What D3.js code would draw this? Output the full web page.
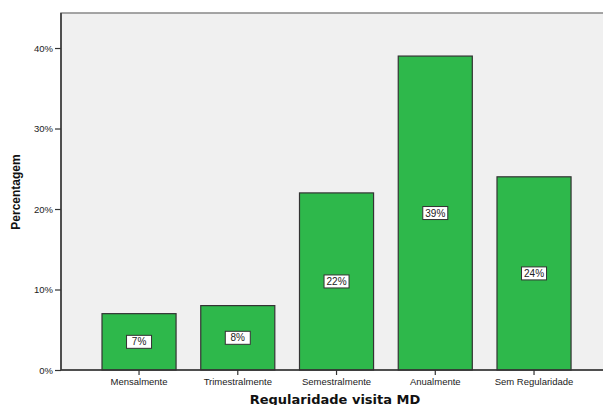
<!DOCTYPE html>
<html><head><meta charset="utf-8">
<script src="https://cdn.jsdelivr.net/npm/d3@7"></script>
<style>body{margin:0;background:#fff}svg{display:block}</style>
</head><body>
<svg id="c" width="603" height="405"></svg>
<script>
const categories = ["Mensalmente","Trimestralmente","Semestralmente","Anualmente","Sem Regularidade"];
const values = [7, 8, 22, 39, 24];
const yTicks = [0, 10, 20, 30, 40];
const xTitle = "Regularidade visita MD";
const yTitle = "Percentagem";

const svg = d3.select("#c");
const pLeft = 61, pTop = 13, pBottom = 370, pRight = 603;
const y = d3.scaleLinear().domain([0, 44.35]).range([pBottom, pTop]);
const x = d3.scaleBand().domain(categories).range([89.66, 583.4]).paddingInner(0.25).paddingOuter(0.125);

svg.append("rect").attr("x", pLeft).attr("y", pTop).attr("width", pRight - pLeft + 5).attr("height", pBottom - pTop)
  .attr("fill", "#f0f0f0").attr("stroke", "#888").attr("stroke-width", 1.5);

svg.selectAll(".bar").data(values).join("rect")
  .attr("x", (d,i) => x(categories[i])).attr("y", d => y(d))
  .attr("width", x.bandwidth()).attr("height", d => y(0) - y(d))
  .attr("fill", "#2eb84b").attr("stroke", "#333").attr("stroke-width", 1.2);

const lab = svg.selectAll(".lab").data(values).join("g")
  .attr("transform", (d,i) => `translate(${x(categories[i]) + x.bandwidth()/2},${(y(d)+y(0))/2})`);
lab.append("rect").attr("x", -12.5).attr("y", -6.5).attr("width", 25).attr("height", 13)
  .attr("fill", "#fff").attr("stroke", "#333").attr("stroke-width", 1);
lab.append("text").text(d => d + "%").attr("text-anchor", "middle").attr("dy", "0.35em")
  .attr("font-family", "Liberation Sans, Arial, sans-serif").attr("font-size", 10).attr("fill", "#222");

const yAxis = svg.append("g").attr("transform", `translate(${pLeft},0)`)
  .call(d3.axisLeft(y).tickValues(yTicks).tickFormat(d => d + "%").tickSize(6).tickPadding(2));
yAxis.select(".domain").attr("d", `M0,${pTop}V${pBottom}`).attr("stroke", "#333").attr("stroke-width", 1.5);
yAxis.selectAll("line").attr("stroke", "#333").attr("stroke-width", 1.2);
yAxis.selectAll("text").attr("font-family", "Liberation Sans, Arial, sans-serif").attr("font-size", 9.5).attr("fill", "#222");

const xAxis = svg.append("g").attr("transform", `translate(0,${pBottom})`)
  .call(d3.axisBottom(x).tickSize(5).tickPadding(3));
xAxis.select(".domain").attr("d", `M${pLeft},0H${pRight}`).attr("stroke", "#333").attr("stroke-width", 1.5);
xAxis.selectAll("line").attr("stroke", "#333").attr("stroke-width", 1.2);
xAxis.selectAll("text").attr("font-family", "Liberation Sans, Arial, sans-serif").attr("font-size", 9.5).attr("fill", "#222");

svg.append("text").text(xTitle).attr("x", 335).attr("y", 404).attr("text-anchor", "middle")
  .attr("font-family", "DejaVu Sans, sans-serif").attr("font-weight", "bold").attr("font-size", 13).attr("fill", "#111");
svg.append("text").text(yTitle).attr("transform", "translate(20,192) rotate(-90)").attr("text-anchor", "middle")
  .attr("font-family", "Liberation Sans, Arial, sans-serif").attr("font-weight", "bold").attr("font-size", 12).attr("fill", "#111");
</script>
</body></html>
